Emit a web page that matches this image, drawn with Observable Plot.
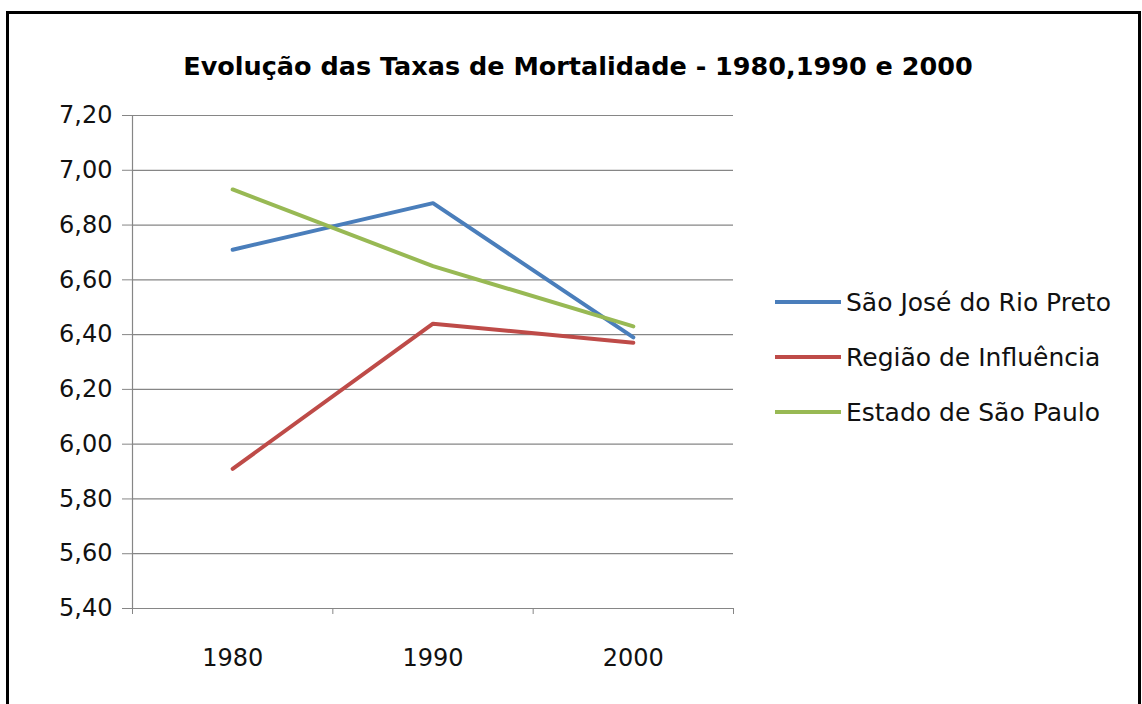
<!DOCTYPE html>
<html>
<head>
<meta charset="utf-8">
<script src="https://cdn.jsdelivr.net/npm/d3@7"></script>
<script src="https://cdn.jsdelivr.net/npm/@observablehq/plot@0.6"></script>
<style>
  html, body { margin: 0; padding: 0; background: #fff; }
  #wrap { position: relative; width: 1142px; height: 704px; overflow: hidden; background: #fff; font-family: "DejaVu Sans", sans-serif; }
  #frame { position: absolute; left: 6px; top: 11px; width: 1135px; height: 700px; border: 3px solid #000; box-sizing: border-box; }
  #title { position: absolute; left: 578px; top: 51px; transform: translateX(-50%); white-space: nowrap; font-weight: bold; font-size: 25.5px; color: #000; }
  #chart { position: absolute; left: 0; top: 0; }
  .leg { position: absolute; left: 775px; display: flex; align-items: center; white-space: nowrap; font-size: 25px; color: #111; }
  .sw { width: 66px; height: 4px; margin-right: 5px; }
</style>
</head>
<body>
<div id="wrap">
  <div id="frame"></div>
  <div id="chart"></div>
  <div id="title"></div>
  <div id="legend"></div>
</div>
<script>
const titleText = "Evolução das Taxas de Mortalidade - 1980,1990 e 2000";
const years = [1980, 1990, 2000];
const seriesNames = ["São José do Rio Preto", "Região de Influência", "Estado de São Paulo"];
const seriesColors = ["#4A7EBB", "#BE4B48", "#98B954"];
const saoJoseRioPreto = [6.71, 6.88, 6.39];
const regiaoInfluencia = [5.91, 6.44, 6.37];
const estadoSaoPaulo = [6.93, 6.65, 6.43];
const yTicks = [5.4, 5.6, 5.8, 6.0, 6.2, 6.4, 6.6, 6.8, 7.0, 7.2];
const xBoundaries = [1975, 1985, 1995, 2005];

const allValues = [saoJoseRioPreto, regiaoInfluencia, estadoSaoPaulo];
const data = [];
seriesNames.forEach((s, i) => years.forEach((y, j) => data.push({serie: s, year: y, value: allValues[i][j]})));

const fmt = d => d3.format(".2f")(d).replace(".", ",");

const chart = Plot.plot({
  width: 1142,
  height: 704,
  marginLeft: 132,
  marginRight: 409,
  marginTop: 115,
  marginBottom: 96,
  style: {fontFamily: "DejaVu Sans", fontSize: "24px", color: "#000", background: "transparent"},
  x: {type: "linear", domain: [1975, 2005]},
  y: {domain: [5.4, 7.2]},
  color: {domain: seriesNames, range: seriesColors},
  marks: [
    Plot.ruleY(yTicks, {stroke: "#868686", strokeWidth: 1.2}),
    Plot.ruleX([1975], {stroke: "#868686", strokeWidth: 1.2}),
    Plot.axisY({ticks: yTicks, tickFormat: fmt, tickSize: 10, tickPadding: 10, stroke: "#868686", strokeOpacity: 1, fill: "#111", label: null}),
    Plot.axisX({ticks: xBoundaries, tickFormat: () => "", tickSize: 6, stroke: "#868686", strokeOpacity: 1, label: null}),
    Plot.axisX({ticks: years, tickFormat: d => String(d), tickSize: 0, tickPadding: 40, fill: "#111", label: null}),
    Plot.line(data, {x: "year", y: "value", z: "serie", stroke: "serie", strokeWidth: 4})
  ]
});
document.getElementById("chart").appendChild(chart);
document.getElementById("title").textContent = titleText;

const legend = document.getElementById("legend");
const legendTops = [302, 357, 412];
seriesNames.forEach((s, i) => {
  const row = document.createElement("div");
  row.className = "leg";
  row.style.top = (legendTops[i] - 15) + "px";
  row.style.height = "30px";
  const sw = document.createElement("div");
  sw.className = "sw";
  sw.style.background = seriesColors[i];
  const t = document.createElement("span");
  t.textContent = s;
  row.appendChild(sw);
  row.appendChild(t);
  legend.appendChild(row);
});
</script>
</body>
</html>
